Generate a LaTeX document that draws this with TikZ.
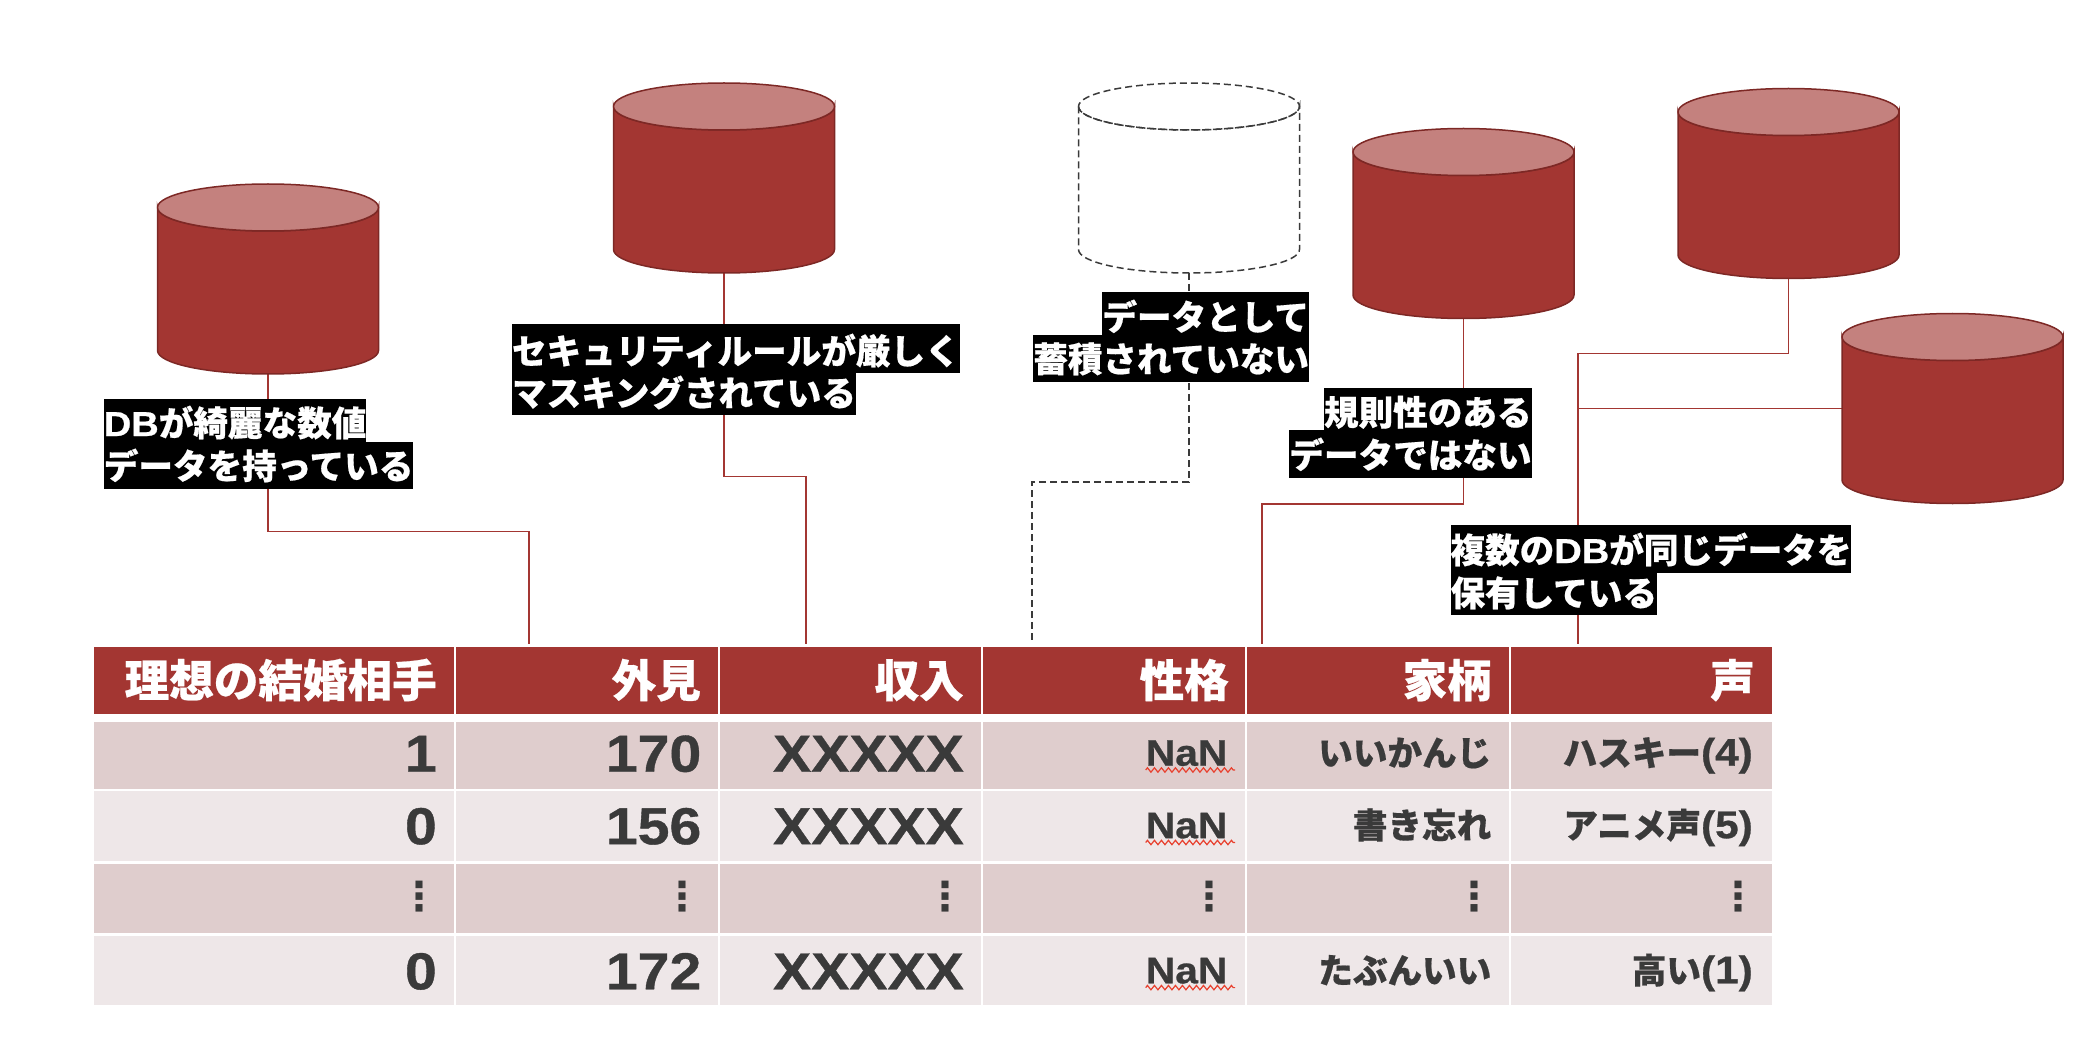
\documentclass[tikz,border=0pt]{standalone}
\usepackage{fontspec}
\setmainfont{Noto Sans CJK JP}[BoldFeatures={FakeBold=0.5}]
\newfontfamily\numfont{Liberation Sans}[FakeStretch=1.1,BoldFeatures={FakeBold=0.7}]
\newfontfamily\dotsfont{DejaVu Sans}
\usetikzlibrary{decorations.pathmorphing}
\definecolor{brick}{HTML}{A33632}
\definecolor{brickline}{HTML}{7D2825}
\definecolor{brickend}{HTML}{C4817E}
\definecolor{rowdark}{HTML}{DFCDCD}
\definecolor{rowlight}{HTML}{EEE7E8}
\definecolor{inkgrey}{HTML}{3A3A3A}
\definecolor{spellred}{HTML}{E8412F}
\tikzset{
  dbframe/.style={rectangle,minimum width=221pt,minimum height=190pt,inner sep=0pt,outer sep=0pt},
  canbody/.style={fill=brick,draw=brickline,line width=1.5pt},
  canend/.style={fill=brickend,draw=brickline,line width=1.5pt},
  canempty/.style={draw=inkgrey,line width=1.5pt,dash pattern=on 7pt off 4pt},
  wire/.style={draw=brick,line width=1.7pt},
  wirenone/.style={draw=inkgrey,line width=1.5pt,dash pattern=on 7pt off 4pt},
  tag/.style 2 args={fill=black,text=white,font=\fontsize{34.6}{40}\selectfont\bfseries,
    inner sep=0pt,outer sep=0pt,text height=#1pt,text depth=#2pt},
  headtxt/.style={anchor=base east,text=white,inner sep=0pt,
    font=\fontsize{44.6}{50}\selectfont\bfseries},
  numtxt/.style={anchor=base east,text=inkgrey,inner sep=0pt,
    font=\fontsize{52}{58}\selectfont\numfont\bfseries},
  nantxt/.style={anchor=base east,text=inkgrey,inner sep=0pt,
    font=\fontsize{37}{42}\selectfont\numfont\bfseries},
  jptxt/.style={anchor=base east,text=inkgrey,inner sep=0pt,
    font=\fontsize{34.6}{40}\selectfont\bfseries},
  dotstxt/.style={text=inkgrey,inner sep=0pt,font=\fontsize{40}{44}\selectfont\dotsfont\bfseries},
  squiggle/.style={draw=spellred,line width=1.2pt,
    decorate,decoration={zigzag,segment length=7pt,amplitude=2.2pt}}
}
% the can drawn over its frame node
\newcommand{\dbcan}[3]{
  \path[#2] ([yshift=-23.5pt]#1.north west) -- ([yshift=23.5pt]#1.south west)
    arc (180:0:110.5 and 23.5) -- ([yshift=-23.5pt]#1.north east)
    arc (0:180:110.5 and 23.5) -- cycle;
  \path[#3] ([yshift=-23.5pt]#1.north west) arc (180:-180:110.5 and 23.5);
}
\newcommand{\latn}[1]{{\numfont #1}}
\newcommand{\latnb}[1]{{\numfont\fontsize{38.5}{42}\selectfont #1}}
\begin{document}
\begin{tikzpicture}[x=1pt,y=-1pt]
  \useasboundingbox (0,0) rectangle (2100,1056);
  % table cells
  \foreach \xa/\xb in {94/454,456/717.5,719.5/981,983/1245.3,1247.3/1509,1511/1772}{
    \fill[brick] (\xa,647.3) rectangle (\xb,714.3);
    \fill[rowdark] (\xa,721.7) rectangle (\xb,789);
    \fill[rowlight] (\xa,791.3) rectangle (\xb,861);
    \fill[rowdark] (\xa,863.7) rectangle (\xb,933);
    \fill[rowlight] (\xa,935.7) rectangle (\xb,1005.3);
  }
  % frames of the cans
  \node[dbframe] (db1) at (268,279) {};
  \node[dbframe] (db2) at (724,178) {};
  \node[dbframe] (db3) at (1189,178) {};
  \node[dbframe] (db4) at (1463.5,223.5) {};
  \node[dbframe] (db5) at (1788.5,183.5) {};
  \node[dbframe] (db6) at (1952.5,408.5) {};
  % where the wires meet
  \coordinate (turn1) at (529,531.6);
  \coordinate (foot1) at (529,644);
  \coordinate (turn2) at (805.8,476.4);
  \coordinate (foot2) at (805.8,644);
  \coordinate (turn3) at (1032,482);
  \coordinate (foot3) at (1032,642);
  \coordinate (turn4) at (1261.7,503.8);
  \coordinate (foot4) at (1261.7,644);
  \coordinate (turn5) at (1577.8,353.5);
  \coordinate (foot5) at (1577.8,644);
  \draw[wire] (db1.south) |- (turn1) -- (foot1);
  \draw[wire] (db2.south) |- (turn2) -- (foot2);
  \draw[wirenone] (db3.south) |- (turn3) -- (foot3);
  \draw[wire] (db4.south) |- (turn4) -- (foot4);
  \draw[wire] (db5.south) |- (turn5) -- (foot5);
  \draw[wire] (db6.west) -- (db6.west -| turn5);
  \dbcan{db1}{canbody}{canend}
  \dbcan{db2}{canbody}{canend}
  \dbcan{db3}{canempty}{canempty}
  \dbcan{db4}{canbody}{canend}
  \dbcan{db5}{canbody}{canend}
  \dbcan{db6}{canbody}{canend}
  % black captions
  \node[tag={37}{6},anchor=north west] (cap1a) at (103.8,399) {\latn{DB}が綺麗な数値};
  \node[tag={37}{10},anchor=north west] (cap1b) at (cap1a.south west) {データを持っている};
  \node[tag={40}{8.5},anchor=north west] (cap2a) at (512,324) {セキュリティルールが厳しく};
  \node[tag={33.5}{8.6},anchor=north west] (cap2b) at (cap2a.south west) {マスキングされている};
  \node[tag={38}{4.6},anchor=north east] (cap3a) at (1309,292) {データとして};
  \node[tag={37.4}{10},anchor=north east] (cap3b) at (cap3a.south east) {蓄積されていない};
  \node[tag={37.8}{4.6},anchor=north east] (cap4a) at (1531.6,387.6) {規則性のある};
  \node[tag={38}{9.7},anchor=north east] (cap4b) at (cap4a.south east) {データではない};
  \node[tag={38}{10},anchor=north west] (cap5a) at (1450.5,525) {複数の\latn{DB}が同じデータを};
  \node[tag={33}{8.5},anchor=north west] (cap5b) at (cap5a.south west) {保有している};
  % table texts
  \foreach \nm/\x/\txt in {a/437/理想の結婚相手,b/701/外見,c/964/収入,d/1229/性格,e/1492/家柄,f/1755/声}
    \node[headtxt] (head\nm) at (\x,697) {\txt};
  \foreach \nm/\y/\va/\vb in {1/771.7/1/170,2/844.2/0/156,4/989.3/0/172}{
    \node[numtxt] (a\nm) at (437,\y) {\va};
    \node[numtxt] (b\nm) at (701.5,\y) {\vb};
    \node[numtxt] (c\nm) at (964,\y) {XXXXX};
  }
  \foreach \nm/\y/\ve/\vf in {1/765.7/いいかんじ/ハスキー\latnb{(4)},2/838.2/書き忘れ/アニメ声\latnb{(5)},4/983.3/たぶんいい/高い\latnb{(1)}}{
    \node[nantxt] (d\nm) at (1227.5,\y) {NaN};
    \node[jptxt] (e\nm) at (1491.5,\y) {\ve};
    \node[jptxt] (f\nm) at (1753,\y) {\vf};
    \draw[squiggle] ([yshift=-4.3pt]d\nm.base west) -- ([xshift=7.5pt,yshift=-4.3pt]d\nm.base east);
  }
  \foreach \nm/\x in {a/419,b/682,c/945,d/1209.7,e/1474,f/1738}
    \node[dotstxt] (dots\nm) at (\x,897) {⋮};
\end{tikzpicture}
\end{document}
